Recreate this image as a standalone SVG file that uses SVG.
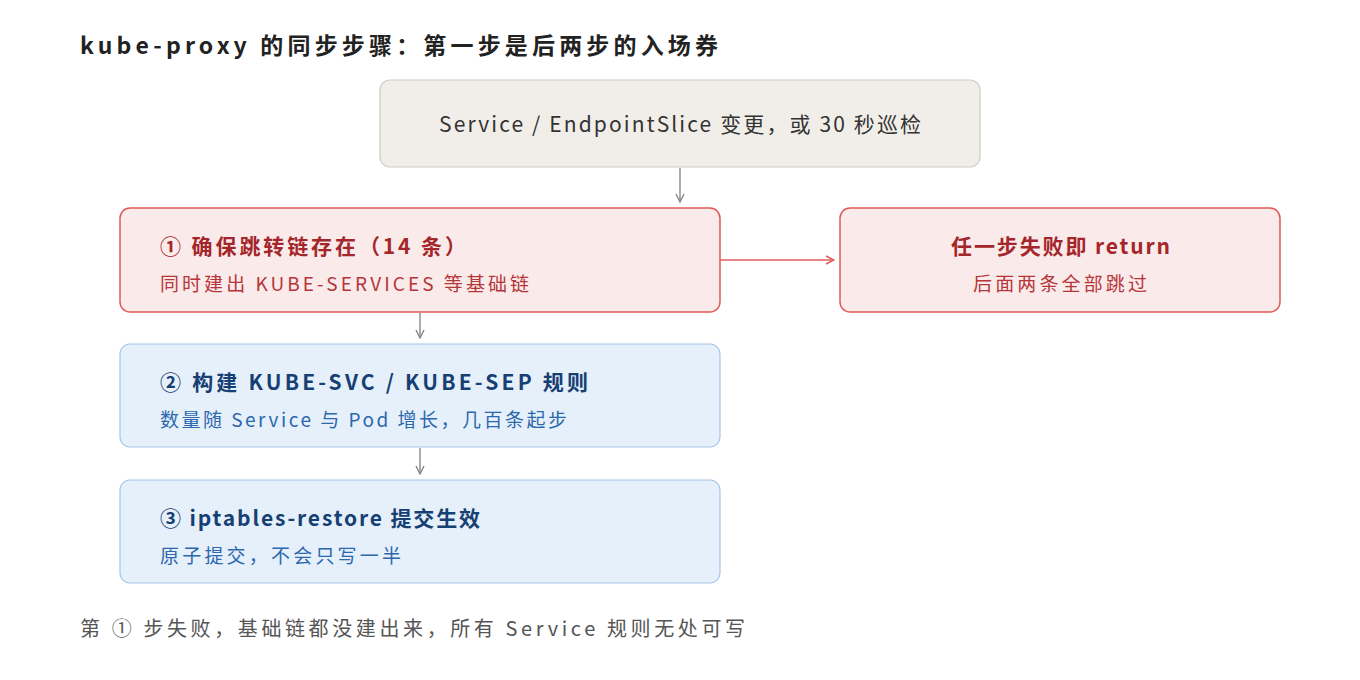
<svg xmlns="http://www.w3.org/2000/svg" width="1360" height="680" viewBox="0 0 1360 680">
<style>
text{font-family:"Noto Sans CJK SC","Noto Sans",sans-serif}
.t{font-size:21px;font-weight:bold}
.s{font-size:19px}
.red .t{fill:#a3262a}.red .s{fill:#b5363a}
.blue .t{fill:#163f73}.blue .s{fill:#2d68ad}
.red rect{fill:#fbeaea;stroke:#e05a5a;stroke-width:1.5}
.blue rect{fill:#e6f0fa;stroke:#a6c6e8;stroke-width:1.2}
</style>
<defs>
<marker id="ag" markerWidth="10" markerHeight="10" refX="9" refY="5" orient="auto" markerUnits="userSpaceOnUse"><path d="M1,1 L9,5 L1,9" fill="none" stroke="#888" stroke-width="1.4"/></marker>
<marker id="ar" markerWidth="10" markerHeight="10" refX="9" refY="5" orient="auto" markerUnits="userSpaceOnUse"><path d="M1,1 L9,5 L1,9" fill="none" stroke="#e05a5a" stroke-width="1.4"/></marker>
</defs>
<rect width="1360" height="680" fill="#fff"/>
<text x="80" y="54" font-size="23" font-weight="bold" fill="#222" textLength="638" lengthAdjust="spacing">kube-proxy 的同步步骤：第一步是后两步的入场券</text>
<g id="trigger"><rect x="380" y="80" width="600" height="87" rx="10" fill="#f1eee9" stroke="#cfcbc4" stroke-width="1.2"/><text x="439" y="132" font-size="21" fill="#333" textLength="482" lengthAdjust="spacing">Service / EndpointSlice 变更，或 30 秒巡检</text></g>
<g id="step1" class="red"><rect x="120" y="208" width="600" height="104" rx="10"/><text class="t" x="160" y="254" textLength="306" lengthAdjust="spacing">① 确保跳转链存在（14 条）</text><text class="s" x="160" y="291" textLength="369" lengthAdjust="spacing">同时建出 KUBE-SERVICES 等基础链</text></g>
<g id="fail" class="red"><rect x="840" y="208" width="440" height="104" rx="10"/><text class="t" x="951" y="254" textLength="219" lengthAdjust="spacing">任一步失败即 return</text><text class="s" x="973" y="291" textLength="174" lengthAdjust="spacing">后面两条全部跳过</text></g>
<g id="step2" class="blue"><rect x="120" y="344" width="600" height="103" rx="10"/><text class="t" x="160" y="390" textLength="428" lengthAdjust="spacing">② 构建 KUBE-SVC / KUBE-SEP 规则</text><text class="s" x="160" y="427" textLength="407" lengthAdjust="spacing">数量随 Service 与 Pod 增长，几百条起步</text></g>
<g id="step3" class="blue"><rect x="120" y="480" width="600" height="103" rx="10"/><text class="t" x="160" y="526" textLength="320" lengthAdjust="spacing">③ iptables-restore 提交生效</text><text class="s" x="160" y="563" textLength="241" lengthAdjust="spacing">原子提交，不会只写一半</text></g>
<g id="connectors" fill="none" stroke-width="1.4">
<line x1="680" y1="168" x2="680" y2="202" stroke="#888" marker-end="url(#ag)"/>
<line x1="720" y1="260" x2="834" y2="260" stroke="#e05a5a" marker-end="url(#ar)"/>
<line x1="420" y1="313" x2="420" y2="338" stroke="#888" marker-end="url(#ag)"/>
<line x1="420" y1="448" x2="420" y2="474" stroke="#888" marker-end="url(#ag)"/>
</g>
<text x="80" y="636" font-size="20" fill="#555" textLength="665" lengthAdjust="spacing">第 ① 步失败，基础链都没建出来，所有 Service 规则无处可写</text>
</svg>
